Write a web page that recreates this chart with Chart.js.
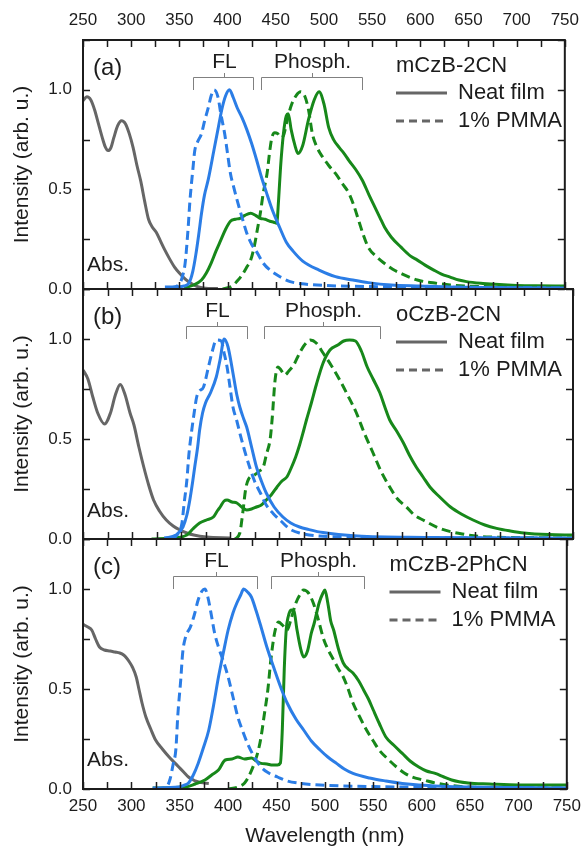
<!DOCTYPE html>
<html>
<head>
<meta charset="utf-8">
<style>
  html, body { margin: 0; padding: 0; background: #fff; }
  #wrap { position: relative; width: 588px; height: 849px; }
  #wrap canvas { position: absolute; left: 0; top: 0; }
</style>
<script src="https://cdn.jsdelivr.net/npm/chart.js@4.4.1/dist/chart.umd.min.js"></script>
</head>
<body>
<div id="wrap">
  <canvas id="panel-a" width="588" height="849"></canvas>
  <canvas id="panel-b" width="588" height="849"></canvas>
  <canvas id="panel-c" width="588" height="849"></canvas>
</div>
<script>
// --- x axis ticks (nm) ---
const wlTicks = [250, 300, 350, 400, 450, 500, 550, 600, 650, 700, 750];
const yTickLabels = ['0.0', '0.5', '1.0'];

// --- (a) mCzB-2CN ---
const aAbsNm = [250, 254, 258, 262, 266, 270, 273, 276, 279, 282, 286, 290, 294, 298, 302, 306, 310, 314, 318, 322, 326, 330, 335, 340, 345, 350, 355, 360, 365, 370, 375, 380, 390];
const aAbs = [0.945, 0.965, 0.95, 0.9, 0.83, 0.76, 0.715, 0.695, 0.71, 0.76, 0.82, 0.845, 0.83, 0.78, 0.71, 0.62, 0.54, 0.44, 0.35, 0.31, 0.285, 0.245, 0.195, 0.15, 0.11, 0.08, 0.055, 0.035, 0.02, 0.01, 0.005, 0.003, 0.002];
const aFlNeatNm = [335, 345, 355, 360, 364, 367, 370, 373, 376, 380, 386, 390, 394, 398, 402, 406, 410, 415, 420, 425, 430, 435, 440, 447, 454, 461, 468, 478, 495, 512, 530, 546, 570, 600, 630, 665, 700, 750];
const aFlNeat = [0.01, 0.01, 0.015, 0.03, 0.09, 0.17, 0.27, 0.38, 0.47, 0.55, 0.7, 0.8, 0.9, 0.97, 1.0, 0.96, 0.91, 0.86, 0.8, 0.73, 0.65, 0.565, 0.49, 0.39, 0.31, 0.235, 0.19, 0.14, 0.095, 0.062, 0.045, 0.032, 0.02, 0.015, 0.01, 0.008, 0.006, 0.005];
const aFlPmmaNm = [340, 350, 353, 356, 359, 361, 364, 366, 369, 373, 376, 380, 383, 386, 390, 393, 397, 400, 403, 407, 410, 415, 420, 425, 431, 437, 444, 455, 465, 480, 500, 550, 650, 750];
const aFlPmma = [0.005, 0.025, 0.06, 0.13, 0.3, 0.445, 0.6, 0.695, 0.74, 0.78, 0.84, 0.91, 0.97, 1.0, 0.965, 0.88, 0.78, 0.68, 0.58, 0.5, 0.445, 0.36, 0.28, 0.225, 0.18, 0.13, 0.095, 0.06, 0.037, 0.025, 0.018, 0.012, 0.008, 0.005];
const aPhNeatNm = [355, 365, 373, 378, 383, 388, 393, 398, 403, 408, 413, 418, 424, 429, 434, 439, 444, 448, 451, 453, 455, 458, 461, 463, 466, 470, 473, 478, 484, 490, 495, 500, 505, 510, 516, 521, 526, 533, 540, 547, 553, 558, 563, 570, 580, 590, 597, 605, 614, 622, 631, 640, 648, 665, 682, 700, 720, 750];
const aPhNeat = [0.005, 0.02, 0.045, 0.08, 0.13, 0.19, 0.245, 0.3, 0.34, 0.35, 0.355, 0.37, 0.38, 0.37, 0.355, 0.35, 0.34, 0.335, 0.33, 0.45, 0.61, 0.78, 0.87, 0.88, 0.8, 0.72, 0.68, 0.72, 0.85, 0.95, 0.99, 0.93, 0.81, 0.75, 0.71, 0.68, 0.645, 0.6, 0.545, 0.47, 0.41, 0.36, 0.31, 0.26, 0.21, 0.165, 0.145, 0.12, 0.095, 0.075, 0.06, 0.045, 0.037, 0.028, 0.022, 0.018, 0.016, 0.015];
const aPhPmmaNm = [395, 405, 410, 415, 420, 424, 428, 431, 434, 437, 441, 444, 446, 449, 452, 455, 458, 462, 466, 471, 476, 480, 484, 488, 493, 499, 505, 512, 519, 526, 531, 536, 541, 546, 555, 563, 571, 580, 597, 615, 631, 660, 700, 750];
const aPhPmma = [0, 0.015, 0.04, 0.07, 0.11, 0.145, 0.22, 0.3, 0.38, 0.48, 0.58, 0.7, 0.76, 0.785, 0.78, 0.76, 0.77, 0.85, 0.92, 0.97, 0.99, 0.97, 0.9, 0.78, 0.71, 0.66, 0.62, 0.58, 0.53, 0.48, 0.42, 0.345, 0.27, 0.21, 0.16, 0.128, 0.1, 0.078, 0.045, 0.03, 0.02, 0.013, 0.01, 0.008];

// --- (b) oCzB-2CN ---
const bAbsNm = [250, 255, 260, 265, 272, 278, 283, 288, 293, 298, 302, 307, 312, 317, 322, 328, 335, 342, 349, 356, 363, 376, 400];
const bAbs = [0.845, 0.8, 0.71, 0.63, 0.575, 0.63, 0.72, 0.773, 0.72, 0.63, 0.57, 0.46, 0.36, 0.27, 0.195, 0.14, 0.095, 0.065, 0.045, 0.03, 0.02, 0.01, 0.005];
const bFlNeatNm = [333, 345, 352, 356, 359, 362, 364, 367, 369, 372, 375, 380, 386, 390, 394, 398, 403, 407, 410, 414, 417, 422, 427, 432, 437, 445, 454, 462, 471, 480, 495, 530, 600, 750];
const bFlNeat = [0.005, 0.02, 0.06, 0.12, 0.195, 0.29, 0.36, 0.46, 0.545, 0.63, 0.68, 0.73, 0.81, 0.9, 1.0, 0.96, 0.83, 0.72, 0.66, 0.6, 0.56, 0.46, 0.36, 0.29, 0.23, 0.16, 0.11, 0.08, 0.06, 0.048, 0.032, 0.015, 0.008, 0.004];
const bFlPmmaNm = [340, 346, 351, 353, 356, 358, 361, 364, 366, 369, 373, 378, 382, 386, 391, 394, 397, 400, 403, 407, 410, 415, 420, 425, 431, 437, 444, 452, 461, 471, 490, 550, 750];
const bFlPmma = [0.003, 0.02, 0.08, 0.17, 0.295, 0.42, 0.545, 0.65, 0.71, 0.74, 0.76, 0.86, 0.94, 0.995, 0.99, 0.93, 0.86, 0.76, 0.66, 0.59, 0.53, 0.44, 0.36, 0.29, 0.23, 0.17, 0.128, 0.09, 0.05, 0.03, 0.015, 0.008, 0.004];
const bPhNeatNm = [320, 340, 356, 362, 369, 376, 383, 387, 390, 394, 397, 402, 407, 412, 417, 422, 427, 432, 437, 442, 448, 453, 458, 462, 467, 471, 475, 478, 483, 488, 495, 502, 510, 516, 522, 528, 534, 540, 546, 553, 558, 563, 570, 577, 583, 590, 597, 604, 614, 625, 636, 648, 660, 672, 686, 700, 725, 750];
const bPhNeat = [0, 0.005, 0.02, 0.05, 0.08, 0.095, 0.11, 0.14, 0.16, 0.19, 0.195, 0.185, 0.18, 0.16, 0.145, 0.15, 0.16, 0.17, 0.195, 0.22, 0.26, 0.29, 0.31, 0.35, 0.41, 0.47, 0.54, 0.595, 0.68, 0.77, 0.88, 0.945, 0.97, 0.99, 0.995, 0.99, 0.94, 0.86, 0.8, 0.73, 0.66, 0.595, 0.54, 0.48, 0.42, 0.36, 0.31, 0.26, 0.21, 0.16, 0.125, 0.095, 0.07, 0.053, 0.04, 0.03, 0.022, 0.02];
const bPhPmmaNm = [405, 410, 413, 416, 419, 425, 430, 434, 437, 441, 443, 446, 449, 452, 456, 460, 465, 471, 476, 482, 488, 495, 503, 512, 520, 529, 537, 546, 554, 563, 571, 580, 588, 597, 614, 637, 665, 750];
const bPhPmma = [0, 0.03, 0.13, 0.25, 0.3, 0.32, 0.34, 0.36, 0.42, 0.5, 0.6, 0.795, 0.86, 0.845, 0.82, 0.84, 0.87, 0.93, 0.97, 0.995, 0.98, 0.93, 0.87, 0.795, 0.72, 0.63, 0.53, 0.43, 0.34, 0.26, 0.2, 0.16, 0.12, 0.095, 0.053, 0.025, 0.01, 0.005];

// --- (c) mCzB-2PhCN ---
const cAbsNm = [250, 255, 259, 263, 267, 272, 278, 283, 288, 292, 295, 298, 301, 305, 308, 311, 315, 320, 325, 332, 339, 344, 349, 354, 359, 363, 366, 372, 380];
const cAbs = [0.823, 0.81, 0.795, 0.75, 0.71, 0.695, 0.69, 0.685, 0.68, 0.67, 0.655, 0.635, 0.61, 0.56, 0.495, 0.43, 0.36, 0.3, 0.245, 0.2, 0.16, 0.135, 0.11, 0.085, 0.06, 0.048, 0.04, 0.032, 0.028];
const cFlNeatNm = [322, 349, 355, 359, 364, 369, 374, 380, 385, 390, 395, 400, 405, 409, 413, 416, 420, 424, 429, 434, 440, 448, 455, 461, 470, 478, 486, 495, 503, 512, 520, 529, 546, 563, 580, 597, 620, 648, 700, 750];
const cFlNeat = [0.005, 0.01, 0.02, 0.03, 0.07, 0.128, 0.2, 0.295, 0.42, 0.56, 0.68, 0.795, 0.88, 0.93, 0.97, 1.0, 0.985, 0.96, 0.89, 0.81, 0.71, 0.595, 0.5, 0.43, 0.35, 0.295, 0.24, 0.195, 0.16, 0.128, 0.1, 0.078, 0.055, 0.04, 0.028, 0.02, 0.014, 0.01, 0.007, 0.005];
const cFlPmmaNm = [325, 336, 340, 343, 346, 348, 351, 353, 356, 361, 365, 369, 373, 376, 379, 383, 386, 390, 395, 400, 405, 410, 415, 420, 427, 434, 442, 451, 461, 475, 495, 550, 650, 750];
const cFlPmma = [0.002, 0.01, 0.05, 0.12, 0.2, 0.37, 0.545, 0.68, 0.76, 0.81, 0.87, 0.945, 0.99, 1.0, 0.96, 0.86, 0.78, 0.71, 0.64, 0.56, 0.46, 0.36, 0.29, 0.228, 0.16, 0.11, 0.08, 0.06, 0.04, 0.028, 0.02, 0.012, 0.008, 0.005];
const cPhNeatNm = [322, 356, 366, 376, 383, 390, 397, 404, 410, 417, 424, 429, 434, 440, 446, 451, 454, 456, 458, 460, 462, 465, 468, 471, 475, 478, 482, 486, 489, 494, 498, 500, 503, 506, 509, 514, 519, 524, 529, 535, 540, 545, 550, 556, 563, 571, 580, 588, 597, 605, 614, 623, 631, 648, 670, 700, 725, 750];
const cPhNeat = [0.005, 0.01, 0.025, 0.045, 0.07, 0.095, 0.145, 0.15, 0.16, 0.15, 0.155, 0.14, 0.128, 0.125, 0.12, 0.12, 0.13, 0.3, 0.6, 0.795, 0.86, 0.895, 0.89, 0.8, 0.7, 0.66, 0.69, 0.78, 0.83, 0.93, 0.98, 0.995, 0.93, 0.84, 0.795, 0.7, 0.63, 0.6, 0.58, 0.54, 0.495, 0.45, 0.395, 0.33, 0.26, 0.22, 0.178, 0.14, 0.11, 0.09, 0.078, 0.06, 0.045, 0.03, 0.025, 0.02, 0.02, 0.02];
const cPhPmmaNm = [400, 410, 417, 422, 427, 431, 434, 437, 441, 444, 448, 452, 456, 461, 465, 470, 474, 478, 483, 488, 493, 499, 504, 509, 514, 519, 524, 529, 536, 543, 550, 556, 565, 574, 582, 590, 602, 614, 630, 648, 700, 750];
const cPhPmma = [0, 0.01, 0.03, 0.07, 0.128, 0.19, 0.26, 0.36, 0.495, 0.64, 0.78, 0.835, 0.82, 0.795, 0.85, 0.93, 0.97, 0.995, 0.98, 0.93, 0.85, 0.745, 0.69, 0.645, 0.6, 0.56, 0.5, 0.43, 0.36, 0.295, 0.24, 0.195, 0.15, 0.11, 0.08, 0.06, 0.045, 0.03, 0.018, 0.01, 0.006, 0.005];

const BLUE = '#2b7de6';
const GREEN = '#17881a';
const GRAY = '#666666';
const BRACKET = '#808080';
const INK = '#1c1c1c';
const FONT = '"Liberation Sans", Arial, sans-serif';

Chart.defaults.font.family = FONT;
Chart.defaults.color = INK;

const panels = [
  {
    canvas: 'panel-a', tag: '(a)', name: 'mCzB-2CN', top: 0, bottom: 560, topAxis: true, bottomAxis: false,
    fl: [364.3, 426.5], ph: [435, 540], legendLeft: 396, absY: -24,
    abs: [aAbsNm, aAbs], flNeat: [aFlNeatNm, aFlNeat], flPmma: [aFlPmmaNm, aFlPmma],
    phNeat: [aPhNeatNm, aPhNeat], phPmma: [aPhPmmaNm, aPhPmma],
  },
  {
    canvas: 'panel-b', tag: '(b)', name: 'oCzB-2CN', top: 289, bottom: 310, topAxis: false, bottomAxis: false,
    fl: [354.8, 417.3], ph: [434.3, 553], legendLeft: 396, absY: -28,
    abs: [bAbsNm, bAbs], flNeat: [bFlNeatNm, bFlNeat], flPmma: [bFlPmmaNm, bFlPmma],
    phNeat: [bPhNeatNm, bPhNeat], phPmma: [bPhPmmaNm, bPhPmma],
  },
  {
    canvas: 'panel-c', tag: '(c)', name: 'mCzB-2PhCN', top: 539, bottom: 0, topAxis: false, bottomAxis: true,
    fl: [342.9, 430], ph: [444.2, 540.4], legendLeft: 389.5, absY: -29,
    abs: [cAbsNm, cAbs], flNeat: [cFlNeatNm, cFlNeat], flPmma: [cFlPmmaNm, cFlPmma],
    phNeat: [cPhNeatNm, cPhNeat], phPmma: [cPhPmmaNm, cPhPmma],
  },
];

function line([xs, ys], color, dashed) {
  return {
    data: xs.map((x, i) => ({ x, y: ys[i] })),
    borderColor: color,
    borderWidth: 3,
    borderDash: dashed ? [9, 5] : [],
    borderJoinStyle: 'round',
    pointRadius: 0,
    cubicInterpolationMode: 'monotone',
    fill: false,
    xAxisID: 'x',
    yAxisID: 'y',
  };
}

const xLabel = (v) => (wlTicks.includes(v) ? String(v) : '');
const yLabel = (v) => {
  const i = [0, 0.5, 1].findIndex((t) => Math.abs(t - v) < 1e-6);
  return i < 0 ? '' : yTickLabels[i];
};

// frame, inward ticks, brackets, labels and the little legend
const decor = {
  id: 'decor',
  afterDatasetsDraw(chart, args, p) {
    const { ctx, chartArea: a, scales } = chart;
    const x = scales.x;
    const y = scales.y;
    const xt = x.ticks.length ? x.ticks : scales.xTop.ticks;
    ctx.save();

    ctx.strokeStyle = INK;
    ctx.lineWidth = 1.5;
    ctx.beginPath();
    xt.forEach((t) => {
      const px = Math.round(x.getPixelForValue(t.value)) + 0.5;
      ctx.moveTo(px, a.bottom); ctx.lineTo(px, a.bottom - 7);
      ctx.moveTo(px, a.top); ctx.lineTo(px, a.top + 7);
    });
    y.ticks.forEach((t) => {
      const py = Math.round(y.getPixelForValue(t.value)) + 0.5;
      ctx.moveTo(a.left, py); ctx.lineTo(a.left + 7, py);
      ctx.moveTo(a.right, py); ctx.lineTo(a.right - 7, py);
    });
    ctx.stroke();

    ctx.lineWidth = 2;
    ctx.strokeRect(a.left, a.top, a.right - a.left, a.bottom - a.top);

    // brackets
    ctx.strokeStyle = BRACKET;
    ctx.lineWidth = 1;
    ctx.fillStyle = INK;
    ctx.textAlign = 'center';
    ctx.textBaseline = 'middle';
    ctx.font = `21px ${FONT}`;
    [[p.fl, 'FL'], [p.ph, 'Phosph.']].forEach(([[x0, x1], text]) => {
      const l = Math.round(x.getPixelForValue(x0)) + 0.5;
      const r = Math.round(x.getPixelForValue(x1)) + 0.5;
      const m = Math.round((l + r) / 2) + 0.5;
      const yb = Math.round(a.top + 37) + 0.5;
      ctx.beginPath();
      ctx.moveTo(l, a.top + 50); ctx.lineTo(l, yb); ctx.lineTo(r, yb); ctx.lineTo(r, a.top + 50);
      ctx.moveTo(m, yb); ctx.lineTo(m, a.top + 33);
      ctx.stroke();
      ctx.fillText(text, m, a.top + 22);
    });

    ctx.textAlign = 'left';
    ctx.font = `24px ${FONT}`;
    ctx.fillText(p.tag, a.left + 10, a.top + 28);
    ctx.font = `21px ${FONT}`;
    ctx.fillText('Abs.', a.left + 4, a.bottom + p.absY);

    // legend
    const lx = p.legendLeft;
    ctx.font = `22px ${FONT}`;
    ctx.fillText(p.name, lx, a.top + 26);
    ctx.fillText('Neat film', lx + 62, a.top + 53);
    ctx.fillText('1% PMMA', lx + 62, a.top + 81);
    ctx.strokeStyle = GRAY;
    ctx.lineWidth = 3;
    ctx.beginPath();
    ctx.moveTo(lx, a.top + 53); ctx.lineTo(lx + 51, a.top + 53);
    ctx.stroke();
    ctx.setLineDash([8, 5]);
    ctx.beginPath();
    ctx.moveTo(lx, a.top + 81); ctx.lineTo(lx + 51, a.top + 81);
    ctx.stroke();
    ctx.restore();
  },
};

function axisBase(show) {
  return {
    type: 'linear',
    min: 250,
    max: 750,
    display: show,
    grid: { display: false, drawTicks: false },
    border: { display: false },
    ticks: {
      stepSize: 25, autoSkip: false, maxRotation: 0, minRotation: 0,
      font: { size: 17 }, color: INK, callback: xLabel,
    },
  };
}

panels.forEach((p) => {
  const xBottom = axisBase(p.bottomAxis);
  xBottom.position = 'bottom';
  xBottom.ticks.padding = 7;
  if (p.bottomAxis) {
    xBottom.title = { display: true, text: 'Wavelength (nm)', font: { size: 21 }, color: INK, padding: { top: 0, bottom: 0 } };
    xBottom.afterFit = (s) => { s.height = 60; };
  }

  const xTop = axisBase(p.topAxis);
  xTop.position = 'top';
  xTop.ticks.padding = 9;
  if (p.topAxis) xTop.afterFit = (s) => { s.height = 40; };

  new Chart(document.getElementById(p.canvas), {
    type: 'line',
    data: {
      datasets: [
        line(p.flNeat, BLUE, false),
        line(p.flPmma, BLUE, true),
        line(p.phNeat, GREEN, false),
        line(p.phPmma, GREEN, true),
        line(p.abs, GRAY, false),
      ],
    },
    options: {
      responsive: false,
      animation: false,
      events: [],
      layout: { padding: { top: p.top, bottom: p.bottom, left: 0, right: 15 } },
      plugins: { legend: { display: false }, tooltip: { enabled: false }, decor: p },
      scales: {
        x: xBottom,
        xTop,
        y: {
          position: 'left',
          min: 0,
          max: 1.25,
          grid: { display: false, drawTicks: false },
          border: { display: false },
          ticks: { stepSize: 0.25, padding: 11, font: { size: 17 }, color: INK, callback: yLabel },
          title: { display: true, text: 'Intensity (arb. u.)', font: { size: 21 }, color: INK, padding: { top: 10, bottom: 0 } },
          afterFit: (s) => { s.width = 83; },
        },
      },
    },
    plugins: [decor],
  });
});
</script>
</body>
</html>
